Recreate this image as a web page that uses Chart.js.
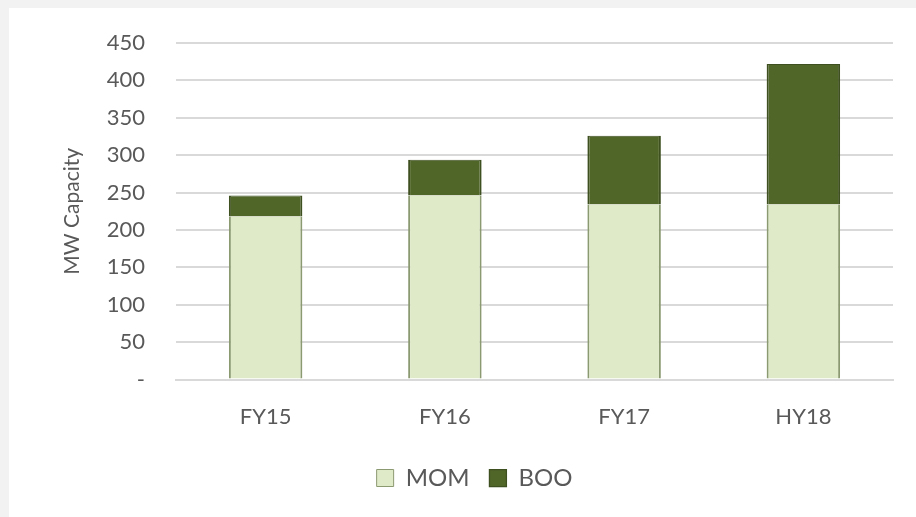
<!DOCTYPE html>
<html>
<head>
<meta charset="utf-8">
<script src="https://cdn.jsdelivr.net/npm/chart.js@4"></script>
<style>
  html, body { margin: 0; padding: 0; background: #f2f2f2; }
  #wrap { position: absolute; left: 9px; top: 8px; width: 907px; height: 509px; background: #fff; }
</style>
</head>
<body>
<div id="wrap"><canvas id="capacityChart"></canvas></div>
<script>
const categories = ["FY15", "FY16", "FY17", "HY18"];
const momValues = [218, 246, 234, 234];
const booValues = [28, 48, 92, 188];
const yTicks = [0, 50, 100, 150, 200, 250, 300, 350, 400, 450];

const capacityChart = document.getElementById("capacityChart");
new Chart(capacityChart, {
  type: "bar",
  data: {
    labels: categories,
    datasets: [
      {
        label: "MOM",
        data: momValues,
        backgroundColor: "#dfeac8",
        borderColor: "#8c9a72",
        borderWidth: { left: 2, right: 2, top: 0, bottom: 0 },
        borderSkipped: false
      },
      {
        label: "BOO",
        data: booValues,
        backgroundColor: "#506528",
        borderColor: "#3f5020",
        borderWidth: { left: 2, right: 2, top: 1, bottom: 0 },
        borderSkipped: false
      }
    ]
  },
  options: {
    responsive: true,
    maintainAspectRatio: false,
    animation: false,
    layout: { padding: { left: 47, right: 23, top: 35, bottom: 17 } },
    datasets: { bar: { barPercentage: 0.41, categoryPercentage: 1 } },
    plugins: {
      legend: {
        position: "bottom",
        labels: {
          color: "#595959",
          font: { family: "Lato", size: 24 },
          boxWidth: 17,
          boxHeight: 17,
          padding: 20
        }
      },
      tooltip: { enabled: false }
    },
    scales: {
      x: {
        stacked: true,
        grid: { display: false },
        border: { color: "#d9d9d9", width: 2 },
        ticks: { color: "#595959", font: { family: "Lato", size: 22 }, padding: 16 }
      },
      y: {
        stacked: true,
        min: 0,
        max: 450,
        afterBuildTicks: function (axis) {
          axis.ticks = yTicks.map(function (v) { return { value: v }; });
        },
        afterFit: function (axis) { axis.width = 120; },
        grid: { color: "#d9d9d9", lineWidth: 2, drawTicks: true, tickLength: 31, tickColor: "rgba(0,0,0,0)" },
        border: { display: false },
        ticks: {
          color: "#595959",
          font: { family: "Lato", size: 22 },
          padding: 0,
          callback: function (v) { return v === 0 ? "-" : v; }
        },
        title: {
          display: true,
          text: "MW Capacity",
          color: "#595959",
          font: { family: "Lato", size: 21 },
          padding: 4
        }
      }
    }
  }
});
</script>
</body>
</html>
